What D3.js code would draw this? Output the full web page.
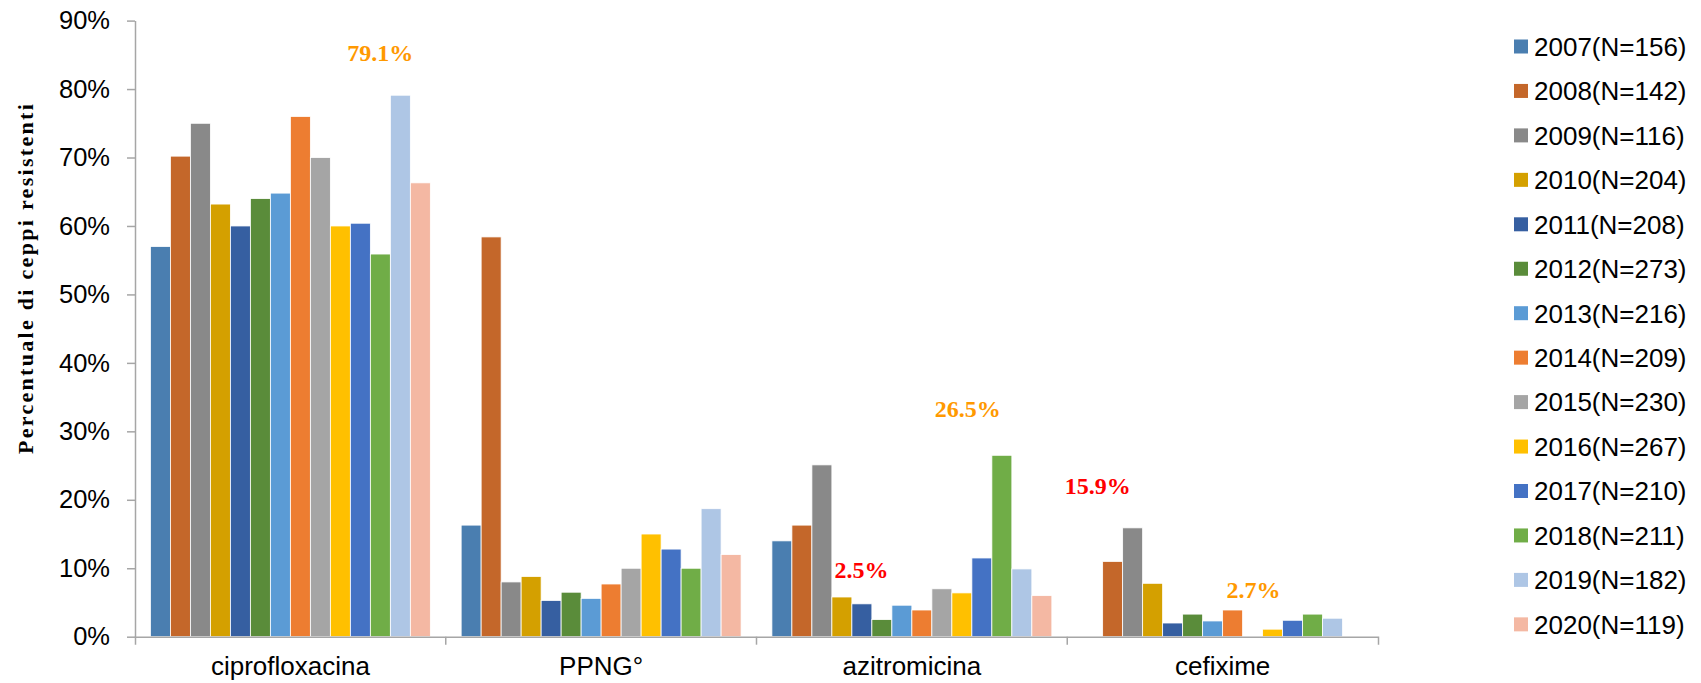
<!DOCTYPE html>
<html>
<head>
<meta charset="utf-8">
<script src="https://cdn.jsdelivr.net/npm/d3@7"></script>
<style>
  body { margin: 0; background: #ffffff; }
  svg { display: block; }
</style>
</head>
<body>
<svg id="chart" width="1701" height="683"></svg>
<script>
// Antibiotics on the x axis
const categories = ["ciprofloxacina", "PPNG°", "azitromicina", "cefixime"];

// Survey years (legend entries)
const seriesLabels = [
  "2007(N=156)", "2008(N=142)", "2009(N=116)", "2010(N=204)", "2011(N=208)",
  "2012(N=273)", "2013(N=216)", "2014(N=209)", "2015(N=230)", "2016(N=267)",
  "2017(N=210)", "2018(N=211)", "2019(N=182)", "2020(N=119)"
];

const seriesColors = [
  "#4A7EB0", "#C4672A", "#898989", "#D4A000", "#365FA1",
  "#5A8C3A", "#5B9BD5", "#ED7D31", "#A5A5A5", "#FFC000",
  "#4472C4", "#70AD47", "#AEC6E5", "#F4B8A3"
];

// Percent of resistant strains, one value per year (2007..2020)
const ciprofloxacina = [57.0, 70.2, 75.0, 63.2, 60.0, 64.0, 64.8, 76.0, 70.0, 60.0, 60.4, 55.9, 79.1, 66.3];
const ppng           = [16.3, 58.4, 8.0, 8.8, 5.3, 6.5, 5.6, 7.7, 10.0, 15.0, 12.8, 10.0, 18.7, 12.0];
const azitromicina   = [14.0, 16.3, 25.1, 5.8, 4.8, 2.5, 4.6, 3.9, 7.0, 6.4, 11.5, 26.5, 9.9, 6.0];
const cefixime       = [null, 11.0, 15.9, 7.8, 2.0, 3.3, 2.3, 3.9, null, 1.1, 2.4, 3.3, 2.7, null];

const valuesByCategory = [ciprofloxacina, ppng, azitromicina, cefixime];

const yTicks = [0, 10, 20, 30, 40, 50, 60, 70, 80, 90];

const yTitle = "Percentuale di ceppi resistenti";

// Highlighted values (category, year index, colour)
const highlights = [
  { category: "ciprofloxacina", series: 12, color: "#FF9900" },
  { category: "azitromicina",   series: 5,  color: "#FF0000" },
  { category: "azitromicina",   series: 11, color: "#FF9900" },
  { category: "cefixime",       series: 2,  color: "#FF0000" },
  { category: "cefixime",       series: 12, color: "#FF9900" }
];

// ---- drawing ----
const svg = d3.select("#chart");
const sans = "'Liberation Sans', Arial, sans-serif";
const serif = "'Liberation Serif', 'Times New Roman', serif";
const axisColor = "#A6A6A6";

const plot = { left: 135, right: 1378, top: 20.6, bottom: 636.7 };

const x0 = d3.scaleBand().domain(categories).range([plot.left, plot.right]).padding(0);
const x1 = d3.scaleBand().domain(d3.range(seriesLabels.length))
  .range([0, x0.bandwidth()]).paddingInner(0).paddingOuter(0.77);
const y = d3.scaleLinear().domain([0, 90]).range([plot.bottom, plot.top]);

// bars
const rows = [];
categories.forEach((c, ci) => {
  valuesByCategory[ci].forEach((v, si) => {
    if (v != null) rows.push({ category: c, series: si, value: v });
  });
});

svg.append("g").selectAll("rect").data(rows).join("rect")
  .attr("x", d => x0(d.category) + x1(d.series))
  .attr("y", d => y(d.value))
  .attr("width", x1.bandwidth())
  .attr("height", d => y(0) - y(d.value))
  .attr("fill", d => seriesColors[d.series])
  .attr("stroke", "#ffffff")
  .attr("stroke-width", 0.8);

// y axis
const yAxis = svg.append("g")
  .attr("transform", `translate(${plot.left},0)`)
  .call(d3.axisLeft(y).tickValues(yTicks).tickFormat(d => d + "%")
    .tickSize(8).tickSizeOuter(0).tickPadding(17));
yAxis.select(".domain").attr("stroke", axisColor).attr("stroke-width", 1.5);
yAxis.selectAll(".tick line").attr("stroke", axisColor).attr("stroke-width", 1.5);
yAxis.selectAll(".tick text")
  .attr("fill", "#000").style("font-family", sans).style("font-size", "25.5px");

// x axis
const xAxis = svg.append("g")
  .attr("transform", `translate(0,${plot.bottom})`)
  .call(d3.axisBottom(x0).tickSize(0).tickSizeOuter(8));
xAxis.select(".domain").attr("stroke", axisColor).attr("stroke-width", 1.5);
xAxis.selectAll(".tick text")
  .attr("y", 38).attr("dy", 0)
  .attr("fill", "#000")
  .style("font-family", sans).style("font-size", "26px");
// category boundary ticks
xAxis.append("g").selectAll("line").data(categories.slice(1)).join("line")
  .attr("x1", d => x0(d)).attr("x2", d => x0(d))
  .attr("y1", 0).attr("y2", 8)
  .attr("stroke", axisColor).attr("stroke-width", 1.5);

// y axis title
svg.append("text")
  .attr("transform", `translate(33,278) rotate(-90)`)
  .attr("text-anchor", "middle")
  .style("font-family", serif).style("font-weight", "bold")
  .style("font-size", "22px").style("letter-spacing", "2.3px")
  .text(yTitle);

// highlighted value labels
const labelOffsets = [[-20, -34], [-20.5, -42], [-34, -38], [-35, -33.6], [-79, -20.5]];
svg.append("g").selectAll("text").data(highlights).join("text")
  .attr("x", (d, i) => x0(d.category) + x1(d.series) + x1.bandwidth() / 2 + labelOffsets[i][0])
  .attr("y", (d, i) => y(valuesByCategory[categories.indexOf(d.category)][d.series]) + labelOffsets[i][1])
  .attr("text-anchor", "middle")
  .attr("fill", d => d.color)
  .style("font-family", serif).style("font-weight", "bold").style("font-size", "24px")
  .text(d => d3.format(".1f")(valuesByCategory[categories.indexOf(d.category)][d.series]) + "%");

// legend
const legend = svg.append("g").attr("transform", "translate(1514,46.5)");
const item = legend.selectAll("g").data(seriesLabels).join("g")
  .attr("transform", (d, i) => `translate(0,${i * 44.45})`);
item.append("rect")
  .attr("x", 0).attr("y", -7).attr("width", 14).attr("height", 14)
  .attr("fill", (d, i) => seriesColors[i]);
item.append("text")
  .attr("x", 20).attr("dy", "0.36em")
  .attr("fill", "#000")
  .style("font-family", sans).style("font-size", "26px")
  .text(d => d);
</script>
</body>
</html>
